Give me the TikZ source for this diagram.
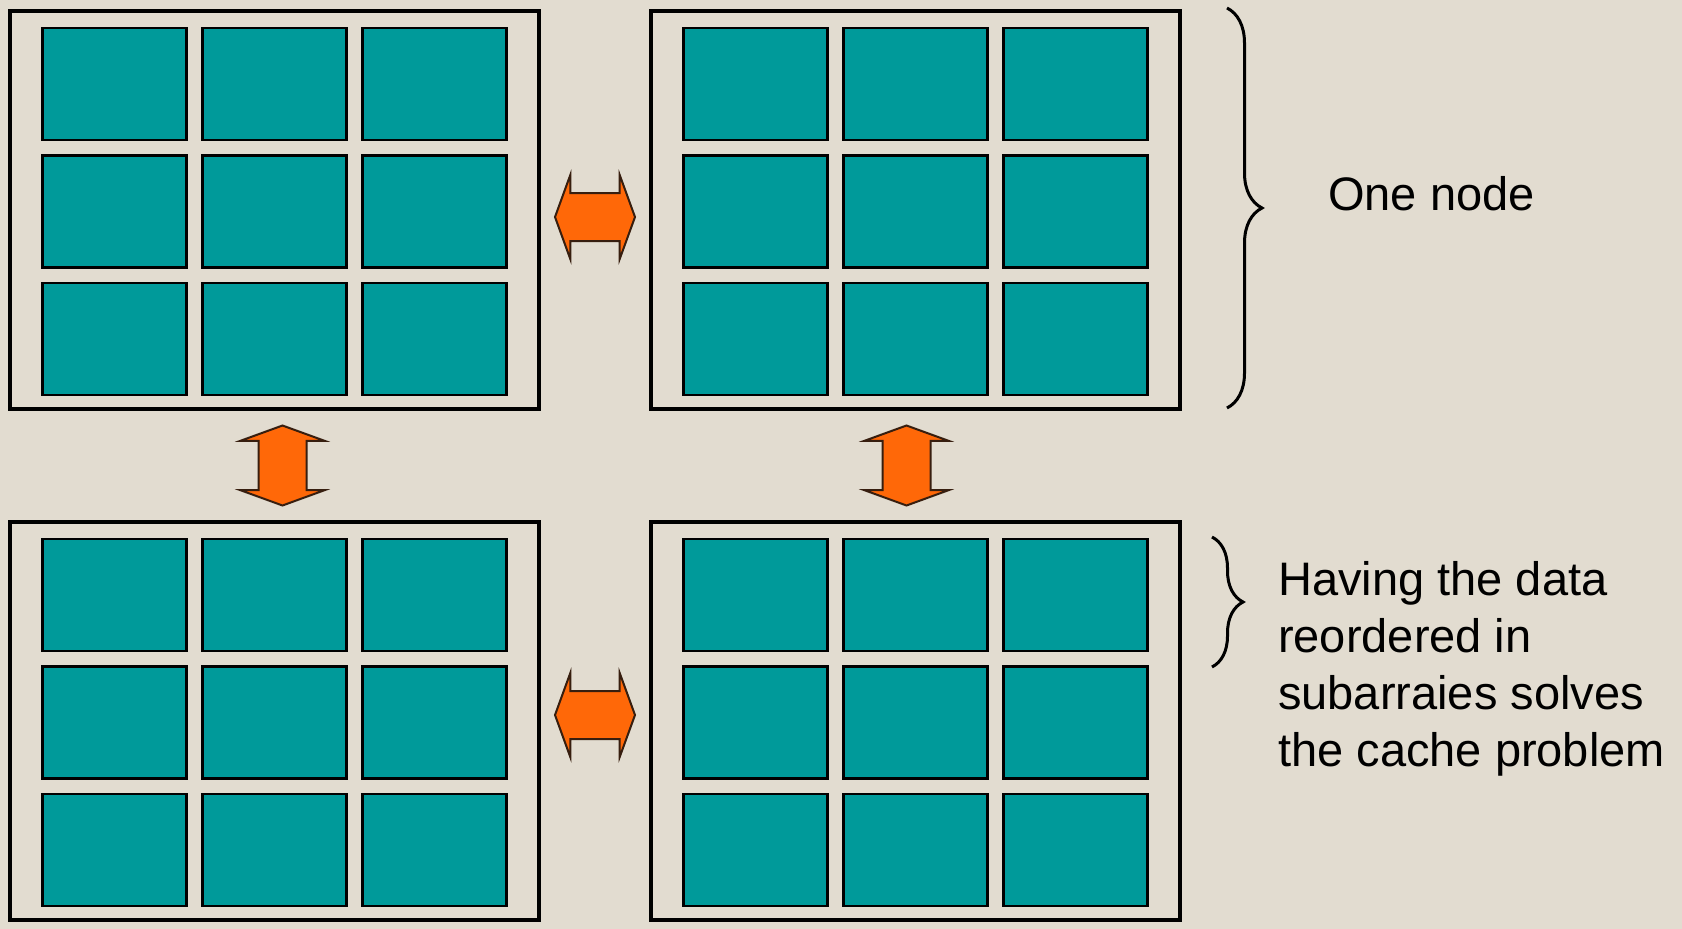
\documentclass[tikz,border=0pt]{standalone}
\usepackage{fontspec}
\setmainfont{Liberation Sans}
\usetikzlibrary{positioning,calc,shapes.arrows,decorations.pathreplacing}
\definecolor{paper}{RGB}{226,220,208}
\definecolor{cellcol}{RGB}{0,154,154}
\definecolor{arrowcol}{RGB}{255,104,8}
\definecolor{arrowline}{RGB}{55,30,15}

\begin{document}
\begin{tikzpicture}[
  x=1pt, y=1pt,
  node distance=113pt and 112pt,
  panel/.style={draw, line width=4pt, minimum width=529pt, minimum height=398pt, inner sep=0pt, outer sep=0pt},
  cell/.style={draw, line width=2.2pt, fill=cellcol, minimum width=144pt, minimum height=112pt, inner sep=0pt},
  dblarrow/.style={double arrow, draw=arrowline, line width=2pt, fill=arrowcol,
    minimum height=80pt, inner xsep=0pt, inner ysep=23pt, double arrow head extend=18pt,
    double arrow tip angle=140},
  bracket/.style={decorate, decoration={brace, amplitude=#1}, line width=3pt},
  txt/.style={font=\fontsize{47}{57}\selectfont, inner sep=0pt}
  ]

   \useasboundingbox (0,0) rectangle (1682,-929);
   \fill [paper] (0,0) rectangle (1682,-929);

   \node (tl) [panel] at (274.5,-210) {};
   \node (tr) [panel, right=of tl] {};
   \node (bl) [panel, below=of tl] {};
   \node (br) [panel, below=of tr] {};

   \foreach \f in {tl,tr,bl,br}
     \foreach \i in {1,2,3}
       \foreach \j in {1,2,3}
         \node (\f\i\j) [cell] at ($(\f.center)+({160*(\i-2)},{-127.5*(\j-2)-1.5})$) {};

   \node (h1) [dblarrow] at ($($(tl.east)!0.5!(tr.west)$)+(0,-7)$) {};
   \node (h2) [dblarrow] at ($($(bl.east)!0.5!(br.west)$)+(0,6)$) {};
   \node (v1) [dblarrow, rotate=90] at ($($(tl.south)!0.5!(bl.north)$)+(8,0)$) {};
   \node (v2) [dblarrow, rotate=90] at ($($(tr.south)!0.5!(br.north)$)+(-9,0)$) {};

   \draw [bracket=35pt] ([xshift=47pt,yshift=3pt]tr.north east) -- ([xshift=47pt,yshift=1pt]tr.south east);
   \draw [bracket=31pt] ([xshift=32pt,yshift=-15pt]br.north east) -- ([xshift=32pt,yshift=-145pt]br.north east);

   \node (one) [txt, anchor=base west] at ([xshift=148pt]tr.east) {One node};
   \node (note) [txt, anchor=north west, align=left] at ([xshift=98pt,yshift=-39pt]br.north east)
     {Having the data\\reordered in\\subarraies solves\\the cache problem};

\end{tikzpicture}
\end{document}
